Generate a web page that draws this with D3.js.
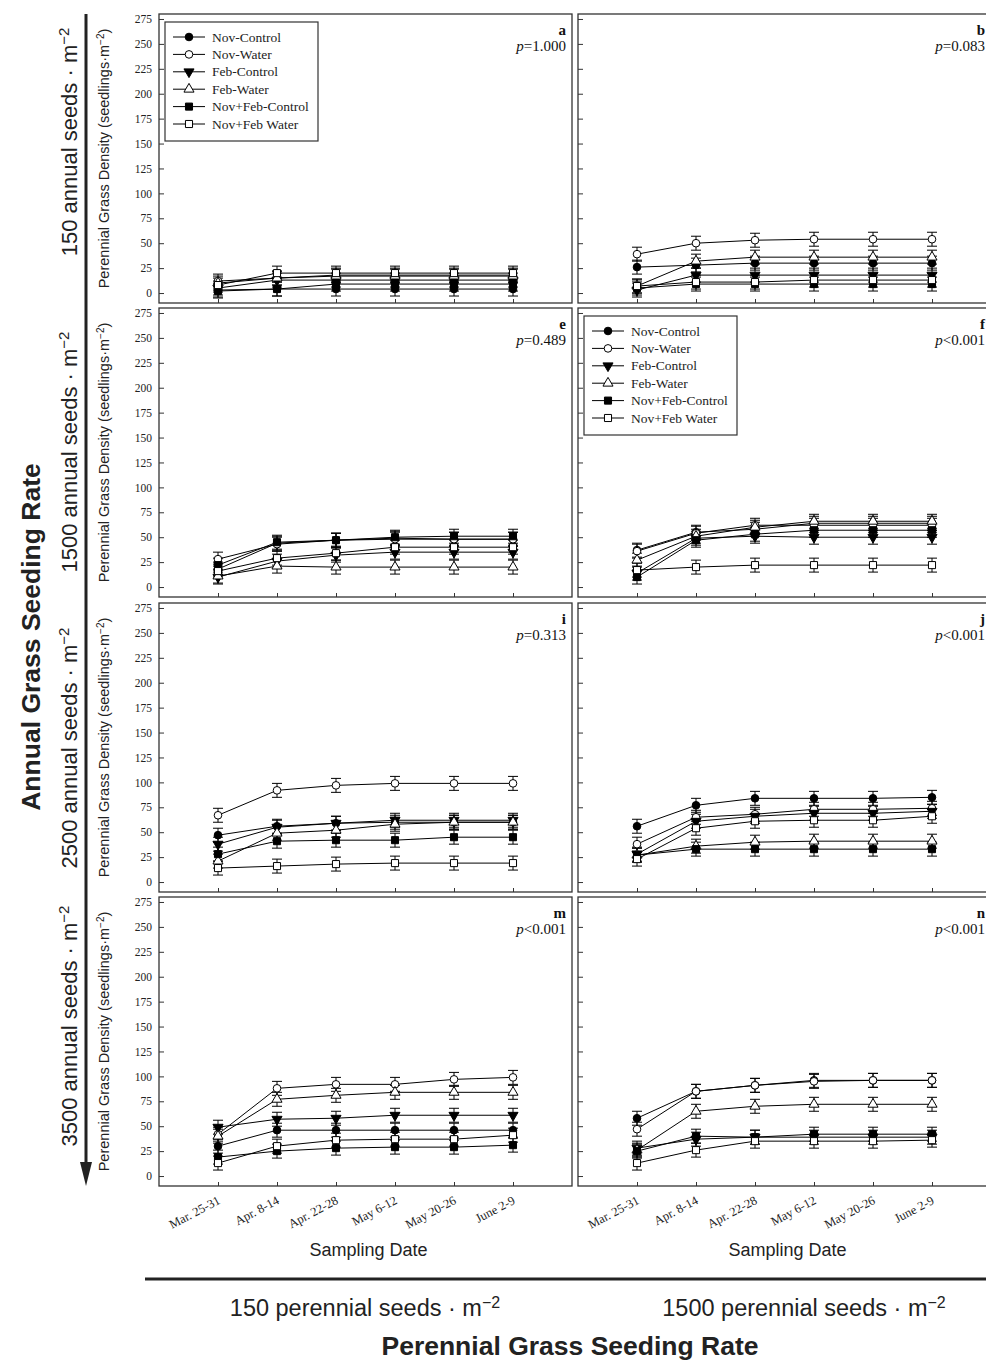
<!DOCTYPE html>
<html>
<head>
<meta charset="utf-8">
<script src="https://cdn.jsdelivr.net/npm/d3@7"></script>
<style>
  body { margin: 0; background: #fff; }
  svg { display: block; }
</style>
</head>
<body>
<svg id="chart"></svg>
<script>
// ---- data ----
const dates = ["Mar. 25-31", "Apr. 8-14", "Apr. 22-28", "May 6-12", "May 20-26", "June 2-9"];
const treatments = ["Nov-Control", "Nov-Water", "Feb-Control", "Feb-Water", "Nov+Feb-Control", "Nov+Feb Water"];
const yTicks = [0, 25, 50, 75, 100, 125, 150, 175, 200, 225, 250, 275];
const annualRates = ["150", "1500", "2500", "3500"];
const perennialRates = ["150", "1500"];
const panelLetters = ["a", "b", "e", "f", "i", "j", "m", "n"];
const pLabels = ["=1.000", "=0.083", "=0.489", "<0.001", "=0.313", "<0.001", "<0.001", "<0.001"];

// one row per treatment (same order as treatments), one value per date
const panelA = [
  [3, 4, 4, 4, 4, 4],
  [12, 15, 18, 18, 18, 18],
  [5, 13, 13, 13, 13, 13],
  [10, 15, 17, 17, 17, 17],
  [2, 4, 9, 9, 9, 9],
  [8, 20, 20, 20, 20, 20]
];
const panelB = [
  [26, 28, 30, 30, 30, 30],
  [39, 50, 53, 54, 54, 54],
  [3, 18, 18, 18, 18, 18],
  [7, 32, 36, 36, 36, 36],
  [5, 9, 9, 9, 9, 9],
  [7, 11, 11, 13, 13, 13]
];
const panelE = [
  [18, 44, 47, 49, 48, 48],
  [28, 43, 47, 48, 48, 48],
  [10, 26, 32, 35, 35, 35],
  [11, 21, 20, 20, 20, 20],
  [22, 45, 47, 50, 51, 51],
  [16, 29, 34, 40, 40, 40]
];
const panelF = [
  [37, 55, 58, 64, 64, 64],
  [36, 54, 62, 62, 62, 62],
  [14, 49, 51, 50, 50, 50],
  [27, 51, 60, 66, 66, 66],
  [10, 47, 53, 57, 57, 57],
  [17, 20, 22, 22, 22, 22]
];
const panelI = [
  [47, 56, 59, 60, 60, 60],
  [67, 92, 97, 99, 99, 99],
  [38, 55, 59, 62, 62, 62],
  [21, 49, 52, 58, 60, 60],
  [28, 41, 42, 42, 45, 45],
  [14, 16, 18, 19, 19, 19]
];
const panelJ = [
  [56, 77, 84, 84, 84, 85],
  [38, 65, 68, 73, 73, 74],
  [28, 61, 66, 69, 69, 71],
  [27, 36, 40, 41, 41, 41],
  [27, 33, 33, 33, 33, 33],
  [23, 54, 61, 62, 62, 66]
];
const panelM = [
  [30, 46, 46, 46, 46, 46],
  [42, 88, 92, 92, 97, 99],
  [49, 57, 58, 61, 61, 61],
  [40, 77, 81, 84, 84, 84],
  [19, 25, 28, 29, 29, 31],
  [13, 30, 36, 37, 37, 41]
];
const panelN = [
  [58, 85, 91, 96, 96, 96],
  [47, 85, 91, 95, 96, 96],
  [28, 37, 39, 39, 39, 39],
  [26, 65, 70, 72, 72, 72],
  [25, 40, 39, 42, 42, 42],
  [13, 26, 35, 35, 35, 36]
];
// standard error per treatment
const seValues = [7, 7, 7, 7, 7, 7];

const panels = [panelA, panelB, panelE, panelF, panelI, panelJ, panelM, panelN];

// ---- layout ----
const width = 986, height = 1360;
const colX = [[159, 572], [578, 991]];
const rowTop = [14, 308, 603, 897];
const panelH = 289;
const serif = "'Liberation Serif', 'Times New Roman', serif";
const sans = "'Liberation Sans', Arial, sans-serif";

// marker styles per treatment
const markerShape = [d3.symbolCircle, d3.symbolCircle, d3.symbolTriangle, d3.symbolTriangle, d3.symbolSquare, d3.symbolSquare];
const markerSize = [46, 46, 44, 44, 50, 50];
const markerFill = ["#000", "#fff", "#000", "#fff", "#000", "#fff"];
const markerRot = [0, 0, 180, 0, 0, 0];

const svg = d3.select("#chart").attr("width", width).attr("height", height);

function drawMarker(g, k, x, y) {
  g.append("path")
    .attr("d", d3.symbol().type(markerShape[k]).size(markerSize[k])())
    .attr("transform", `translate(${x},${y}) rotate(${markerRot[k]})`)
    .attr("fill", markerFill[k])
    .attr("stroke", "#000")
    .attr("stroke-width", 1);
}

panels.forEach((data, p) => {
  const row = Math.floor(p / 2), col = p % 2;
  const [x0, x1] = colX[col];
  const top = rowTop[row], bottom = top + panelH;

  const x = d3.scaleLinear().domain([-1, dates.length]).range([x0, x1]);
  const y = d3.scaleLinear().domain([-10, 280]).range([bottom, top]);

  const g = svg.append("g");

  // y axis (inward ticks)
  const yAxis = g.append("g")
    .attr("transform", `translate(${x0},0)`)
    .call(d3.axisLeft(y).tickValues(yTicks).tickSize(-5).tickPadding(7)
      .tickFormat(col === 0 ? d3.format("d") : () => ""));
  yAxis.select(".domain").remove();
  yAxis.selectAll("line").attr("stroke", "#333");
  yAxis.selectAll("text").attr("font-family", serif).attr("font-size", 11.5).attr("fill", "#222");

  // x axis (inward ticks)
  const xAxis = g.append("g")
    .attr("transform", `translate(0,${bottom})`)
    .call(d3.axisBottom(x).tickValues(d3.range(dates.length)).tickSize(-4).tickFormat(() => ""));
  xAxis.select(".domain").remove();
  xAxis.selectAll("line").attr("stroke", "#333");

  // frame
  g.append("rect")
    .attr("x", x0).attr("y", top)
    .attr("width", x1 - x0).attr("height", panelH)
    .attr("fill", "none").attr("stroke", "#333").attr("stroke-width", 1.3);

  // y title
  if (col === 0) {
    const t = svg.append("text")
      .attr("transform", `translate(109,${top + panelH / 2}) rotate(-90)`)
      .attr("text-anchor", "middle")
      .attr("font-family", sans)
      .attr("font-size", 14.5).attr("fill", "#222");
    t.append("tspan").text("Perennial Grass Density (seedlings\u00B7m");
    t.append("tspan").attr("dy", -5).attr("font-size", 10).text("\u22122");
    t.append("tspan").attr("dy", 5).text(")");
  }

  // lines
  const line = d3.line().x((d, i) => x(i)).y(d => y(d));
  data.forEach((vals, k) => {
    g.append("path").attr("d", line(vals))
      .attr("fill", "none").attr("stroke", "#000").attr("stroke-width", 1);
  });

  // error bars
  data.forEach((vals, k) => {
    vals.forEach((v, i) => {
      const cx = x(i), lo = y(v - seValues[k]), hi = y(v + seValues[k]);
      g.append("line").attr("x1", cx).attr("x2", cx).attr("y1", lo).attr("y2", hi)
        .attr("stroke", "#000").attr("stroke-width", 1);
      [lo, hi].forEach(yy => g.append("line")
        .attr("x1", cx - 5).attr("x2", cx + 5).attr("y1", yy).attr("y2", yy)
        .attr("stroke", "#000").attr("stroke-width", 1));
    });
  });

  // markers
  data.forEach((vals, k) => {
    vals.forEach((v, i) => drawMarker(g, k, x(i), y(v)));
  });

  // panel letter and p value
  g.append("text")
    .attr("x", x1 - 6).attr("y", top + 21)
    .attr("text-anchor", "end").attr("font-family", serif)
    .attr("font-weight", "bold").attr("font-size", 15).attr("fill", "#111")
    .text(panelLetters[p]);
  const pt = g.append("text")
    .attr("x", x1 - 6).attr("y", top + 37)
    .attr("text-anchor", "end").attr("font-family", serif)
    .attr("font-size", 15).attr("fill", "#111");
  pt.append("tspan").attr("font-style", "italic").text("p");
  pt.append("tspan").text(pLabels[p]);

  // legend in panels a and f
  if (p === 0 || p === 3) {
    const lg = g.append("g").attr("transform", `translate(${x0 + 6},${top + 8})`);
    lg.append("rect").attr("width", 153).attr("height", 119)
      .attr("fill", "#fff").attr("stroke", "#333").attr("stroke-width", 1.2);
    treatments.forEach((name, k) => {
      const ly = 15 + k * 17.4;
      lg.append("line").attr("x1", 8).attr("x2", 40).attr("y1", ly).attr("y2", ly)
        .attr("stroke", "#000").attr("stroke-width", 1);
      drawMarker(lg, k, 24, ly);
      lg.append("text").attr("x", 47).attr("y", ly + 4.5)
        .attr("font-family", serif).attr("font-size", 13.5).attr("fill", "#222")
        .text(name);
    });
  }

  // bottom row: date labels and x title
  if (row === rowTop.length - 1) {
    dates.forEach((d, i) => {
      g.append("text")
        .attr("transform", `translate(${x(i) + 3},${bottom + 17}) rotate(-28)`)
        .attr("text-anchor", "end").attr("font-family", serif)
        .attr("font-size", 12.5).attr("fill", "#222")
        .text(d);
    });
    g.append("text")
      .attr("x", (x0 + x1) / 2 + 3).attr("y", 1256)
      .attr("text-anchor", "middle").attr("font-family", sans)
      .attr("font-size", 18).attr("fill", "#222")
      .text("Sampling Date");
  }
});

// row labels (annual seeding rate)
const rowLabelY = [142, 452, 748, 1026];
annualRates.forEach((r, i) => {
  const t = svg.append("text")
    .attr("transform", `translate(77,${rowLabelY[i]}) rotate(-90)`)
    .attr("text-anchor", "middle").attr("font-family", sans)
    .attr("font-size", 22).attr("fill", "#222");
  t.append("tspan").text(`${r} annual seeds \u00B7 m`);
  t.append("tspan").attr("dy", -8).attr("font-size", 15).text("\u22122");
});

// column labels (perennial seeding rate)
const colLabelX = [365, 804];
perennialRates.forEach((r, i) => {
  const t = svg.append("text")
    .attr("x", colLabelX[i]).attr("y", 1316)
    .attr("text-anchor", "middle").attr("font-family", sans)
    .attr("font-size", 23.5).attr("fill", "#222");
  t.append("tspan").text(`${r} perennial seeds \u00B7 m`);
  t.append("tspan").attr("dy", -8).attr("font-size", 16).text("\u22122");
});

// overall titles
svg.append("text")
  .attr("transform", "translate(40,637) rotate(-90)")
  .attr("text-anchor", "middle").attr("font-family", sans)
  .attr("font-weight", "bold").attr("font-size", 26.5).attr("fill", "#222")
  .text("Annual Grass Seeding Rate");
svg.append("text")
  .attr("x", 570).attr("y", 1355)
  .attr("text-anchor", "middle").attr("font-family", sans)
  .attr("font-weight", "bold").attr("font-size", 26.5).attr("fill", "#222")
  .text("Perennial Grass Seeding Rate");

// arrow along the annual axis
svg.append("line").attr("x1", 86).attr("x2", 86).attr("y1", 14).attr("y2", 1168)
  .attr("stroke", "#222").attr("stroke-width", 3);
svg.append("path").attr("d", "M80,1162 L92,1162 L86,1186 Z").attr("fill", "#222");

// rule above perennial labels
svg.append("line").attr("x1", 145).attr("x2", 986).attr("y1", 1279).attr("y2", 1279)
  .attr("stroke", "#222").attr("stroke-width", 3);
</script>
</body>
</html>
